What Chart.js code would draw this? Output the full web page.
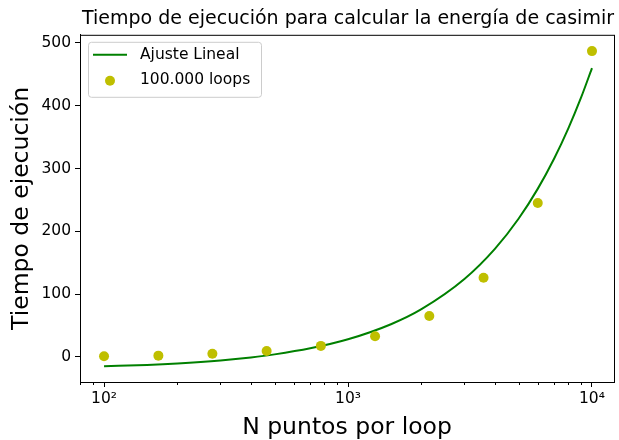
<!DOCTYPE html>
<html>
<head>
<meta charset="utf-8">
<script src="https://cdn.jsdelivr.net/npm/chart.js@4/dist/chart.umd.min.js"></script>
<style>
  html, body { margin: 0; padding: 0; background: #fff; }
  #wrap { width: 619px; height: 440px; }
</style>
</head>
<body>
<div id="wrap"><canvas id="chart" width="619" height="440"></canvas></div>
<script>
// data
const nPoints = [100, 167, 278, 464, 774, 1291, 2154, 3594, 5995, 10000];
const timeValues = [1, 2, 5, 9.5, 17.5, 33, 65, 126, 245, 487];
// fitted line, read at more x positions so the curve stays smooth
const fitX = [100, 150, 200, 300, 400, 500, 700, 1000, 1500, 2000, 3000, 4000,
  5000, 6000, 7000, 8000, 9000, 10000];
const fitValues = [-15, -12.8, -10.4, -5.6, -0.8, 4, 13.6, 28, 52, 76, 124, 172,
  220, 268, 316, 364, 412, 460];
const majorTicks = [100, 1000, 10000];
const minorTicks = [80, 90, 200, 300, 400, 500, 600, 700, 800, 900,
  2000, 3000, 4000, 5000, 6000, 7000, 8000, 9000];
const yTicks = [0, 100, 200, 300, 400, 500];

const FONT = "'DejaVu Sans', sans-serif";
const sup = { "2": "²", "3": "³", "4": "⁴" };

// matplotlib-ish frame, minor ticks and legend box
const framePlugin = {
  id: "frame",
  afterDraw(chart) {
    const ctx = chart.ctx;
    const a = chart.chartArea;
    const xs = chart.scales.x;
    ctx.save();
    ctx.strokeStyle = "#000";
    ctx.lineWidth = 1;
    ctx.strokeRect(a.left + 0.5, a.top + 0.5, a.right - a.left, a.bottom - a.top);
    // minor ticks
    minorTicks.forEach((v) => {
      const px = Math.round(xs.getPixelForValue(v)) + 0.5;
      if (px < a.left || px > a.right) return;
      ctx.beginPath();
      ctx.moveTo(px, a.bottom);
      ctx.lineTo(px, a.bottom + 3);
      ctx.stroke();
    });
    // legend
    const ds = chart.data.datasets;
    const bx = a.left + 8, by = a.top + 7, bw = 173, bh = 55;
    ctx.fillStyle = "rgba(255,255,255,0.8)";
    ctx.strokeStyle = "#cccccc";
    ctx.beginPath();
    ctx.roundRect(bx + 0.5, by + 0.5, bw, bh, 3);
    ctx.fill();
    ctx.stroke();
    ctx.strokeStyle = ds[0].borderColor;
    ctx.lineWidth = 2;
    ctx.beginPath();
    ctx.moveTo(bx + 5, by + 13);
    ctx.lineTo(bx + 39, by + 13);
    ctx.stroke();
    ctx.fillStyle = ds[1].backgroundColor;
    ctx.beginPath();
    ctx.arc(bx + 22, by + 39, 5, 0, Math.PI * 2);
    ctx.fill();
    ctx.fillStyle = "#000";
    ctx.font = "15.5px " + FONT;
    ctx.textBaseline = "middle";
    ctx.fillText(ds[0].label, bx + 52, by + 13);
    ctx.fillText(ds[1].label, bx + 52, by + 38);
    ctx.restore();
  },
};

new Chart(document.getElementById("chart"), {
  data: {
    datasets: [
      {
        type: "line",
        label: "Ajuste Lineal",
        data: fitX.map((x, i) => ({ x: x, y: fitValues[i] })),
        borderColor: "#008000",
        borderWidth: 2,
        pointRadius: 0,
        fill: false,
        cubicInterpolationMode: "monotone",
        order: 1,
      },
      {
        type: "scatter",
        label: "100.000 loops",
        data: nPoints.map((x, i) => ({ x: x, y: timeValues[i] })),
        backgroundColor: "#bfbf00",
        borderWidth: 0,
        pointRadius: 5,
        order: 0,
      },
    ],
  },
  options: {
    responsive: false,
    animation: false,
    layout: { padding: { left: 0, right: 5, top: 0, bottom: 0 } },
    plugins: {
      legend: { display: false },
      tooltip: { enabled: false },
      title: {
        display: true,
        align: "end",
        text: "Tiempo de ejecución para calcular la energía de casimir",
        color: "#000",
        font: { family: FONT, size: 19, weight: "normal" },
        padding: { top: 8, bottom: 4 },
      },
    },
    scales: {
      x: {
        type: "logarithmic",
        min: 79.7,
        max: 12310,
        afterBuildTicks: (s) => { s.ticks = majorTicks.map((v) => ({ value: v })); },
        afterFit: (s) => { s.height = 58; },
        grid: { drawOnChartArea: false, tickLength: 5, color: "#000" },
        border: { color: "#000" },
        ticks: {
          color: "#000",
          font: { family: FONT, size: 15.5 },
          maxRotation: 0,
          padding: 3,
          callback: (v) => "10" + sup[String(Math.round(Math.log10(v)))],
        },
        title: {
          display: true,
          text: "N puntos por loop",
          color: "#000",
          font: { family: FONT, size: 23.5, lineHeight: 1.0 },
          padding: { top: 0, bottom: 0 },
        },
      },
      y: {
        type: "linear",
        min: -40,
        max: 513,
        afterBuildTicks: (s) => { s.ticks = yTicks.map((v) => ({ value: v })); },
        afterFit: (s) => { s.width = 80; },
        grid: { drawOnChartArea: false, tickLength: 5, color: "#000" },
        border: { color: "#000" },
        ticks: {
          color: "#000",
          font: { family: FONT, size: 15.5 },
          padding: 4,
        },
        title: {
          display: true,
          text: "Tiempo de ejecución",
          color: "#000",
          font: { family: FONT, size: 23.5 },
          padding: { top: 8, bottom: 0 },
        },
      },
    },
  },
  plugins: [framePlugin],
});
</script>
</body>
</html>
